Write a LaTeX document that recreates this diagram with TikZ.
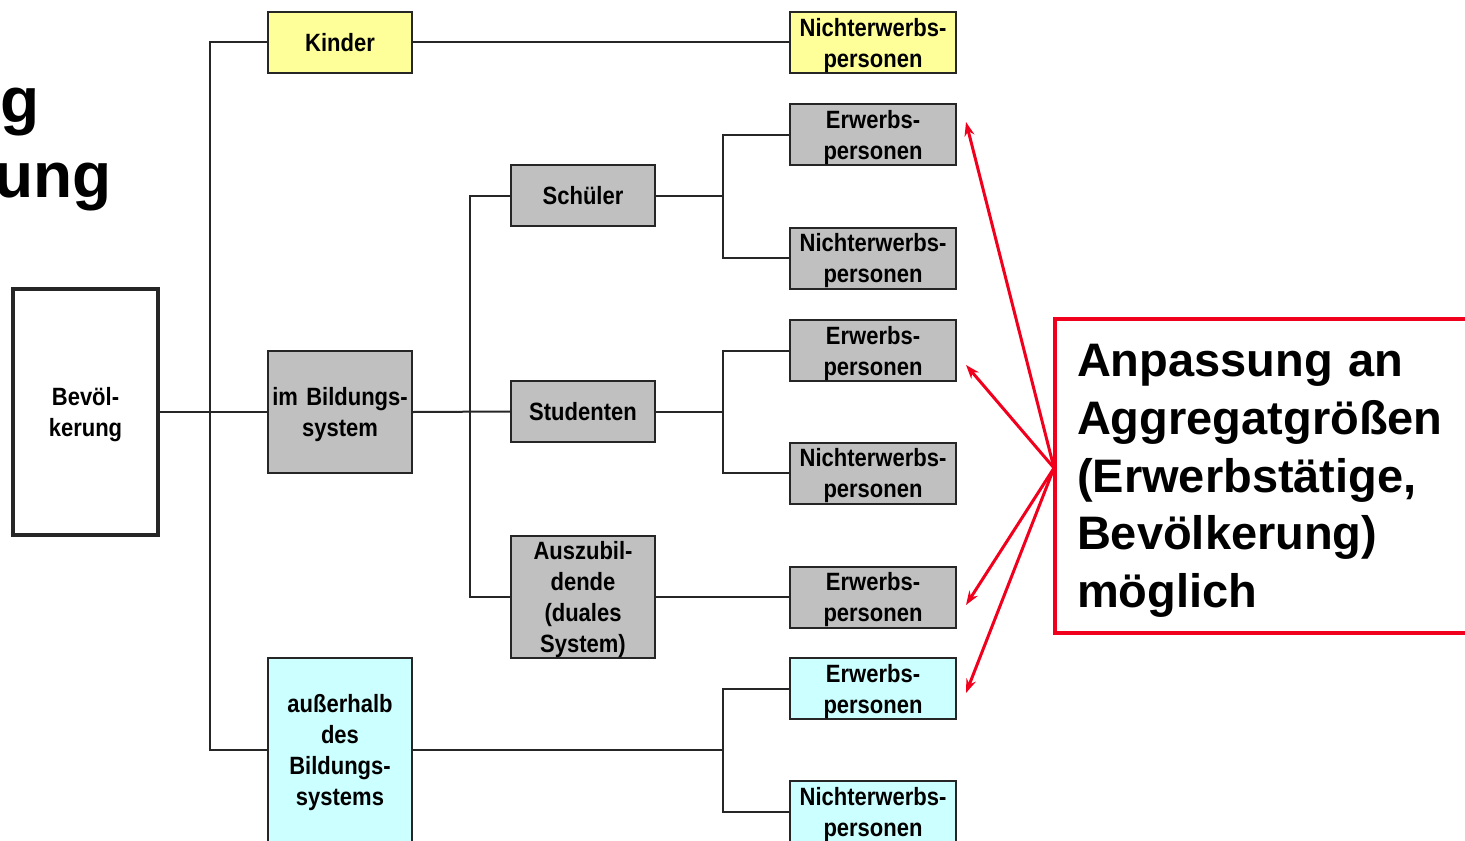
\documentclass[tikz,border=0pt]{standalone}
\usepackage{fontspec}
\setmainfont{Liberation Sans}
\newfontfamily\boxfont[FakeStretch=0.88]{Liberation Sans}
\usetikzlibrary{arrows.meta}
\definecolor{boxgray}{HTML}{C0C0C0}
\definecolor{boxyellow}{HTML}{FFFF99}
\definecolor{boxcyan}{HTML}{CCFFFF}
\definecolor{redline}{HTML}{F0001C}
\begin{document}
\begin{tikzpicture}[x=0.5pt,y=-0.5pt,
  base/.style={draw=black!85, line width=1pt, inner xsep=0pt, inner ysep=0pt, align=center,
    font=\boxfont\bfseries\fontsize{12.5}{15.5}\selectfont},
  ml/.style={text height=12pt},
  wide/.style={base, ml, text width=83pt, minimum height=30.5pt},
  mid/.style={base, text width=72pt, minimum height=30.5pt},
  gray/.style={fill=boxgray},
  yel/.style={fill=boxyellow},
  cya/.style={fill=boxcyan},
  conn/.style={draw=black!85, line width=1pt},
  redarrow/.style={draw=redline, line width=1.5pt, -{Stealth[length=7pt,width=5pt]}},
  title/.style={inner sep=0pt, font=\bfseries\fontsize{32}{36}\selectfont}
]
\useasboundingbox (0,0) rectangle (1465,840);

% cut title fragments
\node[title, anchor=base east] (t1) at (40,122) {g};
\node[title, anchor=base east] (t2) at (112,197) {ung};

% boxes
\node[base, ml, line width=1.8pt, text width=72.5pt, minimum height=123pt, fill=white] (bev) at (85.5,412) {Bevöl-\\kerung};
\node[mid, yel] (kinder) at (340,42.5) {Kinder};
\node[mid, ml, gray, minimum height=61pt] (bild) at (340,412) {im Bildungs-\\system};
\node[mid, ml, cya, minimum height=92pt] (aus) at (340,750) {außerhalb\\des\\Bildungs-\\systems};

\node[mid, gray] (schueler) at (583,195.5) {Schüler};
\node[mid, gray] (stud) at (583,411.5) {Studenten};
\node[mid, ml, gray, minimum height=61pt] (azubi) at (583,597) {Auszubil-\\dende\\(duales\\System)};

\node[wide, yel] (n0) at (873,42.5) {Nichterwerbs-\\personen};
\node[wide, gray] (e1) at (873,134.5) {Erwerbs-\\personen};
\node[wide, gray] (n2) at (873,258) {Nichterwerbs-\\personen};
\node[wide, gray] (e3) at (873,350.5) {Erwerbs-\\personen};
\node[wide, gray] (n4) at (873,473) {Nichterwerbs-\\personen};
\node[wide, gray] (e5) at (873,597) {Erwerbs-\\personen};
\node[wide, cya] (e6) at (873,688.5) {Erwerbs-\\personen};
\node[wide, cya] (n7) at (873,811.5) {Nichterwerbs-\\personen};

% junction coordinates
\coordinate (v1) at (210,412);
\coordinate (v2) at (470,411.5);
\coordinate (v3) at (723,195.5);
\coordinate (v4) at (723,411.5);
\coordinate (v5) at (723,750);

% connectors
\draw[conn] (bev.east) -- (bild.west);
\draw[conn] (kinder.west) -| (v1) |- (aus.west);
\draw[conn] (kinder.east) -- (n0.west);
\draw[conn] (bild.east) -- (stud.west);
\draw[conn] (schueler.west) -| (v2) |- (azubi.west);
\draw[conn] (schueler.east) -- (v3);
\draw[conn] (e1.west) -| (v3) |- (n2.west);
\draw[conn] (stud.east) -- (v4);
\draw[conn] (e3.west) -| (v4) |- (n4.west);
\draw[conn] (azubi.east) -- (e5.west);
\draw[conn] (aus.east) -- (v5);
\draw[conn] (e6.west) -| (v5) |- (n7.west);

% red annotation box
\node[draw=redline, line width=2pt, anchor=north west, inner xsep=11pt, inner ysep=0pt,
      text width=215pt, minimum height=157pt, align=left, text height=21pt,
      font=\bfseries\fontsize{23.5}{28.8}\selectfont] (note) at (1053,317)
  {Anpassung an\\Aggregatgrößen\\(Erwerbstätige,\\Bevölkerung)\\möglich};
\coordinate (hub) at (1054,468);
\coordinate (a1) at (966,122);
\coordinate (a3) at (966,365);
\coordinate (a5) at (966,605);
\coordinate (a6) at (966,693);
\draw[redarrow] (hub) -- (a1);
\draw[redarrow] (hub) -- (a3);
\draw[redarrow] (hub) -- (a5);
\draw[redarrow] (hub) -- (a6);
\end{tikzpicture}
\end{document}
